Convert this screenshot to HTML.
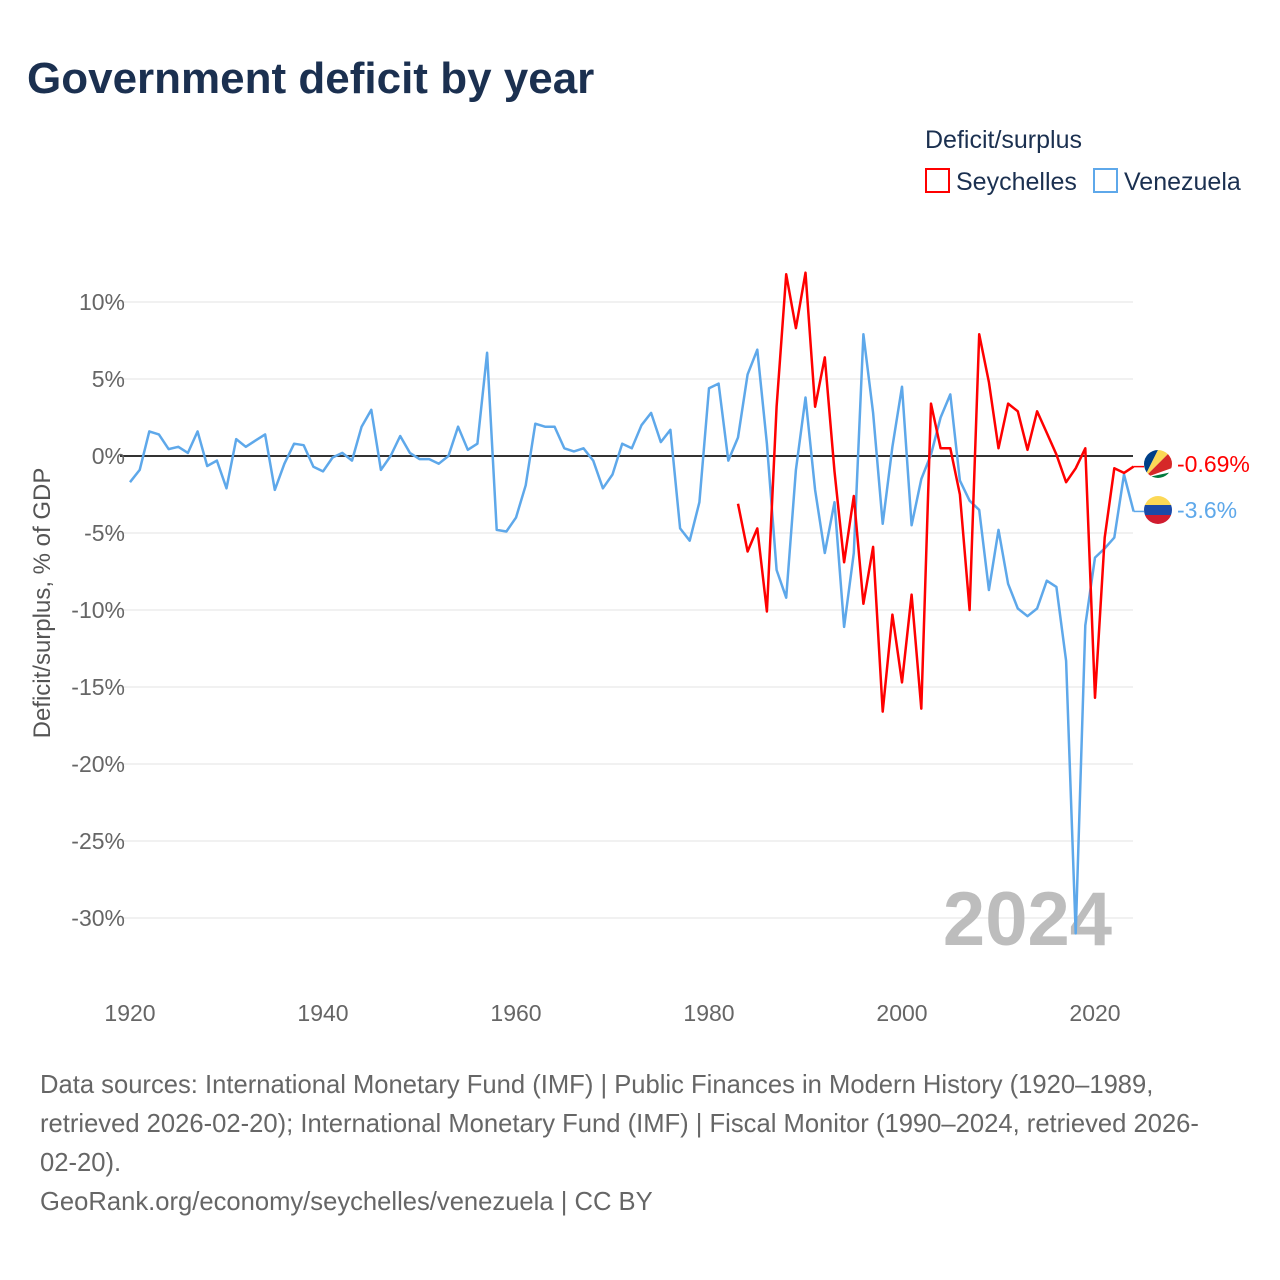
<!DOCTYPE html>
<html><head><meta charset="utf-8">
<style>
body{margin:0;background:#fff;font-family:"Liberation Sans",sans-serif;}
#wrap{position:relative;width:1280px;height:1280px;overflow:hidden;}
</style></head>
<body>
<div id="wrap">
<svg id="chart" width="1280" height="1280" xmlns="http://www.w3.org/2000/svg">
<text x="27" y="93" font-size="44" font-weight="bold" fill="#1b3050">Government deficit by year</text>
<text x="925" y="148" font-size="25" fill="#1b3050">Deficit/surplus</text>
<g>
<rect x="926" y="169" width="23" height="23" fill="none" stroke="#ff0000" stroke-width="2"/>
<text x="956" y="190" font-size="25" fill="#1b3050">Seychelles</text></g>
<g>
<rect x="1094" y="169" width="23" height="23" fill="none" stroke="#5ea8ea" stroke-width="2"/>
<text x="1124" y="190" font-size="25" fill="#1b3050">Venezuela</text></g>
<g id="grid"></g>
<g id="yticks"></g>
<g id="xticks"></g>
<text transform="translate(50,603) rotate(-90)" text-anchor="middle" font-size="24" fill="#555">Deficit/surplus, % of GDP</text>
<text x="1112" y="945" text-anchor="end" font-size="76" font-weight="bold" fill="#bdbdbd">2024</text>
<g id="series"></g>
<g>
<clipPath id="c1"><circle cx="1158" cy="464" r="14"/></clipPath>
<g clip-path="url(#c1)">
<rect x="1144" y="450" width="28" height="28" fill="#fff"/>
<polygon points="1144,478 1144,450 1158,450" fill="#003f87"/>
<polygon points="1144,478 1158,450 1172,450" fill="#fcd856"/>
<polygon points="1144,478 1172,450 1172,468" fill="#d62828"/>
<polygon points="1144,478 1172,472 1172,478" fill="#007a3d"/>
</g>
<text x="1177" y="472" font-size="23" fill="#ff0000">-0.69%</text></g>
<g>
<clipPath id="c2"><circle cx="1158" cy="510" r="14"/></clipPath>
<g clip-path="url(#c2)">
<rect x="1144" y="496" width="28" height="10" fill="#fcd856"/>
<rect x="1144" y="505" width="28" height="10" fill="#1a4aa8"/>
<rect x="1144" y="515" width="28" height="10" fill="#d01c2f"/>
</g>
<text x="1177" y="518" font-size="23" fill="#5ea8ea">-3.6%</text></g>
<g font-size="25.6" fill="#666">
<text x="40" y="1093">Data sources: International Monetary Fund (IMF) | Public Finances in Modern History (1920–1989,</text>
<text x="40" y="1132">retrieved 2026-02-20); International Monetary Fund (IMF) | Fiscal Monitor (1990–2024, retrieved 2026-</text>
<text x="40" y="1171">02-20).</text>
<text x="40" y="1210">GeoRank.org/economy/seychelles/venezuela | CC BY</text>
</g>
</svg>
</div>
<script>
const yTicks=[10,5,0,-5,-10,-15,-20,-25,-30];
const xTicks=[1920,1940,1960,1980,2000,2020];
const venStart=1920;
const venezuela=[-1.7,-0.9,1.6,1.4,0.45,0.6,0.2,1.6,-0.65,-0.3,-2.1,1.1,0.6,1.0,1.4,-2.2,-0.5,0.8,0.7,-0.7,-1.0,-0.1,0.2,-0.3,1.9,3.0,-0.9,0,1.3,0.2,-0.2,-0.2,-0.5,0,1.9,0.4,0.8,6.7,-4.8,-4.9,-4.0,-1.9,2.1,1.9,1.9,0.5,0.3,0.5,-0.3,-2.1,-1.2,0.8,0.5,2.0,2.8,0.9,1.7,-4.7,-5.5,-3.0,4.4,4.7,-0.3,1.2,5.3,6.9,0.8,-7.4,-9.2,-0.9,3.8,-2.2,-6.3,-3.0,-11.1,-6.3,7.9,2.8,-4.4,0.6,4.5,-4.5,-1.5,0.1,2.5,4.0,-1.6,-2.9,-3.5,-8.7,-4.8,-8.3,-9.9,-10.4,-9.9,-8.1,-8.5,-13.3,-31.0,-11.0,-6.6,-6.0,-5.3,-1.2,-3.6];
const seyStart=1983;
const seychelles=[-3.1,-6.2,-4.7,-10.1,3.2,11.8,8.3,11.9,3.2,6.4,-1.0,-6.9,-2.6,-9.6,-5.9,-16.6,-10.3,-14.7,-9.0,-16.4,3.4,0.5,0.5,-2.5,-10.0,7.9,4.8,0.5,3.4,2.9,0.4,2.9,1.5,0.1,-1.7,-0.8,0.5,-15.7,-5.3,-0.8,-1.1,-0.69];
const NS="http://www.w3.org/2000/svg";
function xs(yr){return 130+(yr-1920)*9.65;}
function ys(v){return 456-v*15.4;}
function mk(tag,attrs,parent){const e=document.createElementNS(NS,tag);for(const k in attrs)e.setAttribute(k,attrs[k]);parent.appendChild(e);return e;}
const grid=document.getElementById('grid'),yt=document.getElementById('yticks'),xt=document.getElementById('xticks'),ser=document.getElementById('series');
yTicks.forEach(v=>{
  if(v!==0){const l=mk('line',{x1:120,x2:1133,y1:ys(v),y2:ys(v),stroke:'#e3e3e3','stroke-width':1},grid);
  
  }
  const t=mk('text',{x:125,y:ys(v)+8,'text-anchor':'end','font-size':23,fill:'#666'},yt);
  t.textContent=v+'%';
  
  
});
xTicks.forEach(y=>{
  const t=mk('text',{x:xs(y),y:1021,'text-anchor':'middle','font-size':23,fill:'#666'},xt);
  t.textContent=y;
  
  
});
const zl=mk('line',{x1:120,x2:1133,y1:ys(0),y2:ys(0),stroke:'#333','stroke-width':2},grid);


function path(arr,start,color,name){
  const d=arr.map((v,i)=>(i?'L':'M')+xs(start+i).toFixed(1)+','+ys(v).toFixed(1)).join(' ');
  const p=mk('path',{d:d,fill:'none',stroke:color,'stroke-width':2.5,'stroke-linejoin':'round'},ser);
  
  
  const last=arr.length-1;
  const c=mk('line',{x1:xs(start+last),y1:ys(arr[last]),x2:1144,y2:ys(arr[last]),stroke:color,'stroke-width':1.5},ser);
  
  
}
path(venezuela,venStart,'#5ea8ea','venezuela-line');
path(seychelles,seyStart,'#ff0000','seychelles-line');
</script>
</body></html>
